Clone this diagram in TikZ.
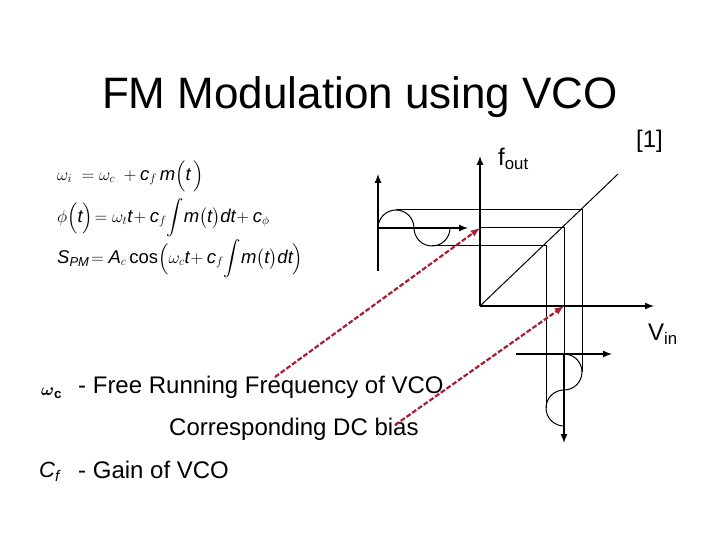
\documentclass[tikz,border=0pt]{standalone}
\usepackage{amsmath}
\usepackage{fontspec}
\setmainfont{Liberation Sans}
\newcommand{\vr}[1]{\textit{#1}}
\definecolor{darkred}{RGB}{170,30,50}
\tikzset{
    axisline/.style={-latex, line width=2pt, black},
    thinline/.style={line width=1pt, black},
    redarrow/.style={-latex, line width=2.2pt, darkred, dash pattern=on 5pt off 2pt},
    bodytext/.style={anchor=west, inner sep=0pt, font=\fontsize{24}{26}\selectfont},
    eqtext/.style={anchor=west, inner sep=0pt, font=\fontsize{18.5}{20}\selectfont}
}
\begin{document}
\begin{tikzpicture}[x=1pt, y=1pt]
    \useasboundingbox (0,0) rectangle (720,540);
    % Title
    \node[font=\fontsize{44}{48}\selectfont] (title) at (360,443) {FM Modulation using VCO};
    % Equations
    \node[eqtext] (eqone) at (57,364) {$\omega_i \;= \omega_c \;+ \vr{c}_f\, \vr{m}\Bigl(\vr{t}\,\Bigr)$};
    \node[eqtext] (eqtwo) at (57,322) {$\phi\Bigl(\vr{t}\Bigr)\!= \omega_t \vr{t}\! + \vr{c}_f\! \displaystyle\int\! \vr{m}\bigl(\vr{t}\bigr) \vr{dt}\! + \vr{c}_\phi$};
    \node[eqtext] (eqthree) at (57,281) {$\vr{S}_{\vr{PM}}\! = \vr{A}_c \cos\Bigl(\omega_c \vr{t}\! + \vr{c}_f\! \displaystyle\int\! \vr{m}\bigl(\vr{t}\bigr) \vr{dt}\Bigr)$};
    % Labels
    \node[bodytext] (fout) at (498,381) {f$_{\text{out}}$};
    \node[bodytext] (cite) at (636,399) {[1]};
    \node[bodytext] (vin) at (648,206) {V$_{\text{in}}$};
    % Body text
    \node[bodytext, font=\fontsize{19}{20}\selectfont] (wc) at (41,147) {$\boldsymbol{\omega}_{\mathbf{c}}$};
    \node[bodytext] (free) at (78,153) {- Free Running Frequency of VCO};
    \node[bodytext] (bias) at (169,111) {Corresponding DC bias};
    \node[bodytext, font=\fontsize{22}{24}\selectfont] (cf) at (39,68) {\vr{C}$_{\vr{f}}$};
    \node[bodytext] (gain) at (78,70) {- Gain of VCO};
    % Axes of the transfer curve
    \coordinate (origin) at (480,234);
    \coordinate (ftop) at (480,384);
    \coordinate (vend) at (654,234);
    \coordinate (diagend) at (618,366);
    \draw[axisline] (origin) -- (ftop);
    \draw[axisline] (origin) -- (vend);
    \draw[thinline] (origin) -- (diagend);
    % Input axes
    \coordinate (leftbase) at (378,269);
    \coordinate (lefttop) at (378,366);
    \coordinate (leftmid) at (378,312);
    \coordinate (leftend) at (468,312);
    \draw[axisline] (leftbase) -- (lefttop);
    \draw[axisline] (leftmid) -- (leftend);
    % Output axes
    \coordinate (lowstart) at (516,186);
    \coordinate (lowend) at (612,186);
    \coordinate (lowmid) at (564,186);
    \coordinate (lowbase) at (564,97);
    \draw[axisline] (lowstart) -- (lowend);
    \draw[axisline] (lowmid) -- (lowbase);
    % Waves
    \draw[thinline] (leftmid) arc (180:0:18) arc (180:360:18);
    \draw[thinline] (lowmid) arc (90:-90:18) arc (90:270:18);
    % Projections through the curve
    \draw[thinline] (396,330) -- (582,330) -- (582,168);
    \draw[thinline] (480,312) -- (564,312) -- (lowmid);
    \draw[thinline] (432,294) -- (546,294) -- (546,132);
    % Red pointers
    \coordinate (freestart) at (275,163);
    \coordinate (biasstart) at (395,115);
    \coordinate (opone) at (480,312);
    \coordinate (optwo) at (564,234);
    \draw[redarrow] (freestart) -- (opone);
    \draw[redarrow] (biasstart) -- (optwo);
\end{tikzpicture}
\end{document}
